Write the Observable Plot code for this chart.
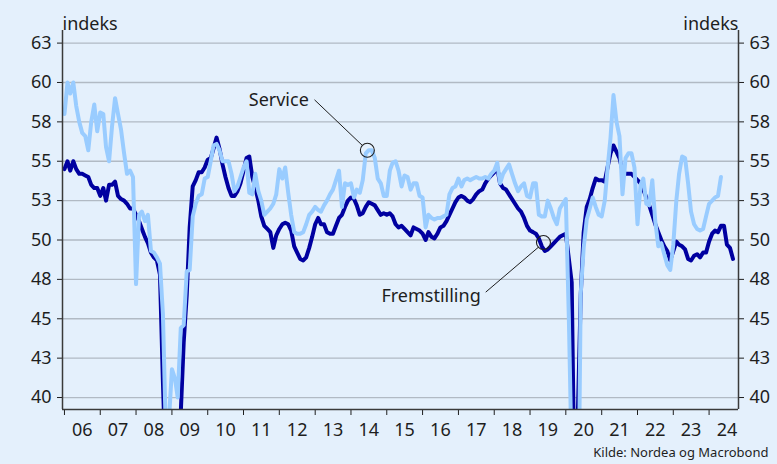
<!DOCTYPE html>
<html><head><meta charset="utf-8">
<script src="https://cdn.jsdelivr.net/npm/d3@7"></script>
<script src="https://cdn.jsdelivr.net/npm/@observablehq/plot@0.6"></script>
<style>
html,body{margin:0;padding:0;background:#e4f0fc;}
#chart{width:777px;height:464px;}
</style></head><body><div id="chart"></div>
<script>
const startYear = 2006;
// Monthly index values from Jan 2006
const fremstilling = [
 54.5,55.0,54.4,55.0,54.5,54.2,54.2,54.1,54.0,53.5,53.3,53.3,
 52.8,53.3,52.5,53.5,53.5,53.7,52.8,52.6,52.5,52.3,52.0,52.0,
 51.6,51.2,50.7,50.2,49.8,49.2,48.9,48.7,47.8,41.0,35.0,34.0,
 34.0,34.5,36.0,39.0,43.5,46.5,50.8,53.4,53.8,54.3,54.3,54.6,
 55.1,55.2,55.8,56.5,55.8,54.8,54.0,53.3,52.8,52.8,53.1,53.6,
 54.4,55.2,55.3,54.0,53.3,52.5,51.5,50.9,50.7,50.5,49.5,50.3,
 50.7,51.0,51.1,51.0,50.6,49.6,49.2,48.8,48.7,48.9,49.5,50.2,
 51.0,51.4,51.0,51.0,50.5,50.4,50.4,50.9,51.4,51.6,52.1,52.5,
 52.7,52.6,52.2,51.6,51.7,52.1,52.4,52.3,52.2,51.9,51.6,51.7,
 51.6,51.7,51.5,51.0,50.8,50.9,50.7,50.5,50.3,50.8,50.7,50.6,
 50.4,50.0,50.5,50.2,50.1,50.4,50.8,50.9,51.2,51.6,52.0,52.4,
 52.7,52.8,52.7,52.5,52.4,52.6,52.9,53.1,53.2,53.6,53.9,54.1,
 54.3,54.6,53.6,53.3,53.2,52.9,52.6,52.3,52.0,51.8,51.4,50.9,
 50.6,50.5,50.4,50.1,49.6,49.3,49.4,49.6,49.8,50.0,50.2,50.3,
 50.4,48.8,47.3,33.0,38.5,46.5,50.5,52.1,52.6,53.3,53.9,53.8,
 53.8,53.7,54.6,55.5,56.0,55.6,55.2,54.4,54.2,54.2,54.2,54.0,
 53.8,53.6,53.2,52.7,52.2,51.6,51.0,50.5,50.0,49.6,49.3,48.7,
 49.3,49.9,49.7,49.6,49.4,48.8,48.7,49.0,49.1,48.9,49.2,49.2,
 49.9,50.4,50.6,50.5,50.9,50.9,49.7,49.5,48.8
];
const service = [
 58.0,60.0,59.3,60.0,58.5,57.5,56.8,56.6,55.7,57.5,58.6,56.9,
 58.1,58.0,55.9,55.0,57.2,59.0,58.0,57.0,55.5,54.2,54.4,54.0,
 47.2,51.6,51.8,51.2,51.6,49.3,49.2,48.9,48.5,45.3,37.5,38.5,
 41.8,41.2,40.0,44.4,44.6,48.0,48.1,51.5,52.3,52.8,52.9,53.9,
 54.0,55.0,56.0,56.1,55.7,55.0,55.0,55.0,54.2,53.1,53.4,54.0,
 54.6,55.0,53.0,52.9,54.2,53.1,52.5,51.6,51.8,52.0,52.3,52.9,
 54.5,53.9,54.6,53.0,51.6,50.5,50.4,50.4,50.5,51.0,51.6,51.8,
 52.1,51.9,51.8,52.2,52.5,52.9,53.2,53.8,54.4,52.1,53.6,53.5,
 53.6,52.7,53.2,53.0,53.8,55.5,55.7,55.7,55.2,53.9,53.6,52.8,
 52.8,54.4,54.9,55.0,54.4,53.4,54.1,54.0,53.2,53.6,53.6,52.8,
 52.7,50.8,51.6,51.4,51.3,51.4,51.4,51.5,51.6,52.9,53.3,53.4,
 53.9,53.4,53.8,53.9,53.8,53.9,54.0,53.9,53.9,54.0,53.9,54.2,
 54.4,54.9,53.6,54.2,54.5,54.8,54.2,53.6,53.1,53.4,53.6,52.8,
 52.7,53.6,53.6,51.6,51.5,51.5,52.5,52.0,51.4,51.0,52.0,52.3,
 52.6,45.0,36.0,25.0,28.0,46.6,49.5,51.3,52.0,52.7,52.1,51.6,
 51.5,52.5,54.5,56.5,59.2,57.5,56.6,52.9,55.2,55.5,55.5,54.6,
 51.0,53.5,53.9,52.3,52.2,53.8,51.2,49.6,49.8,49.1,48.4,48.1,
 49.7,52.5,54.2,55.3,55.2,53.6,51.8,51.0,50.7,50.6,50.7,51.5,
 52.3,52.5,52.7,52.8,54.0
];
const yTicks = [40,42.5,45,47.5,50,52.5,55,57.5,60,62.5];
const yTickLabels = ["40","43","45","48","50","53","55","58","60","63"];
const yearLabels = ["06","07","08","09","10","11","12","13","14","15","16","17","18","19","20","21","22","23","24"];
const seriesNames = ["Fremstilling","Service"];
const colors = ["#0000a0","#99ccff"];

// annotation anchors, in (decimal year, index) data space
const annoLabels = ["Service","Fremstilling"];
const annoPoint = [[2014.458,55.70],[2019.375,49.84]];
const annoLineFrom = [[2012.983,58.90],[2017.760,46.69]];
const annoLineTo = [[2014.314,56.01],[2019.233,49.54]];
const annoText = [[2012.825,58.86],[2017.622,46.41]];

const dy = v => { const y = Math.floor(v); return new Date(y,0,1 + Math.round((v-y)*365.25)); };
const toRows = (arr, name) => arr.map((v,i) => ({date: new Date(startYear + Math.floor(i/12), i%12, 1), value: v, name}));
const fremRows = toRows(fremstilling, seriesNames[0]);
const servRows = toRows(service, seriesNames[1]);
const yearStarts = yearLabels.map((_,i) => new Date(startYear+i,0,1));
const midYears = yearLabels.map((_,i) => new Date(startYear+i,6,1));
const xDomain = [dy(2005.945), dy(2024.82)];
const yDomain = [39.24, 63.3];
const annos = annoLabels.map((l,i) => ({
  label:l,
  px:dy(annoPoint[i][0]), py:annoPoint[i][1],
  x1:dy(annoLineFrom[i][0]), y1:annoLineFrom[i][1],
  x2:dy(annoLineTo[i][0]), y2:annoLineTo[i][1],
  tx:dy(annoText[i][0]), ty:annoText[i][1]
}));
const ink = "#1e1e1e";

const chart = Plot.plot({
  width: 777, height: 464,
  marginLeft: 62, marginRight: 39, marginTop: 30, marginBottom: 55,
  style: {background: "transparent", fontFamily: "'Noto Sans', sans-serif", fontSize: "18px", color: ink},
  x: {type: "time", domain: xDomain},
  y: {domain: yDomain},
  marks: [
    Plot.ruleY(yTicks, {stroke: "#b1bac4", strokeWidth: 1.3}),
    Plot.axisY(yTicks, {anchor: "left", tickSize: 5, tickPadding: 6, label: null, fontSize: 18,
      tickFormat: d => yTickLabels[yTicks.indexOf(d)]}),
    Plot.axisY(yTicks, {anchor: "right", tickSize: 5, tickPadding: 6, label: null, fontSize: 18,
      tickFormat: d => yTickLabels[yTicks.indexOf(d)]}),
    Plot.axisX(yearStarts, {tickSize: 6, tickFormat: () => "", label: null}),
    Plot.axisX(midYears, {tickSize: 0, tickPadding: 14, label: null, fontSize: 18,
      tickFormat: d => yearLabels[d.getFullYear() - startYear]}),
    Plot.line(fremRows, {x: "date", y: "value", stroke: colors[0], strokeWidth: 4, clip: true}),
    Plot.line(servRows, {x: "date", y: "value", stroke: colors[1], strokeWidth: 4, clip: true}),
    Plot.ruleX([xDomain[0], xDomain[1]], {stroke: "#3a3a3a", strokeWidth: 1.5}),
    Plot.ruleY([yDomain[0]], {stroke: "#3a3a3a", strokeWidth: 1.5}),
    Plot.link(annos, {x1: "x1", y1: "y1", x2: "x2", y2: "y2", stroke: ink, strokeWidth: 1}),
    Plot.dot(annos, {x: "px", y: "py", r: 7, stroke: ink, strokeWidth: 1.1, fill: "none"}),
    Plot.text(annos, {x: "tx", y: "ty", text: "label", textAnchor: "end", fontSize: 18, fill: ink}),
    Plot.text(["indeks"], {frameAnchor: "top-left", dy: -13, textAnchor: "start", fontSize: 18, fill: ink}),
    Plot.text(["indeks"], {frameAnchor: "top-right", dy: -13, textAnchor: "end", fontSize: 18, fill: ink}),
    Plot.text(["Kilde: Nordea og Macrobond"], {frameAnchor: "bottom-right", dx: 30, dy: 47, textAnchor: "end", fontSize: 13, fill: ink})
  ]
});
document.getElementById("chart").appendChild(chart);
</script>
</body></html>
